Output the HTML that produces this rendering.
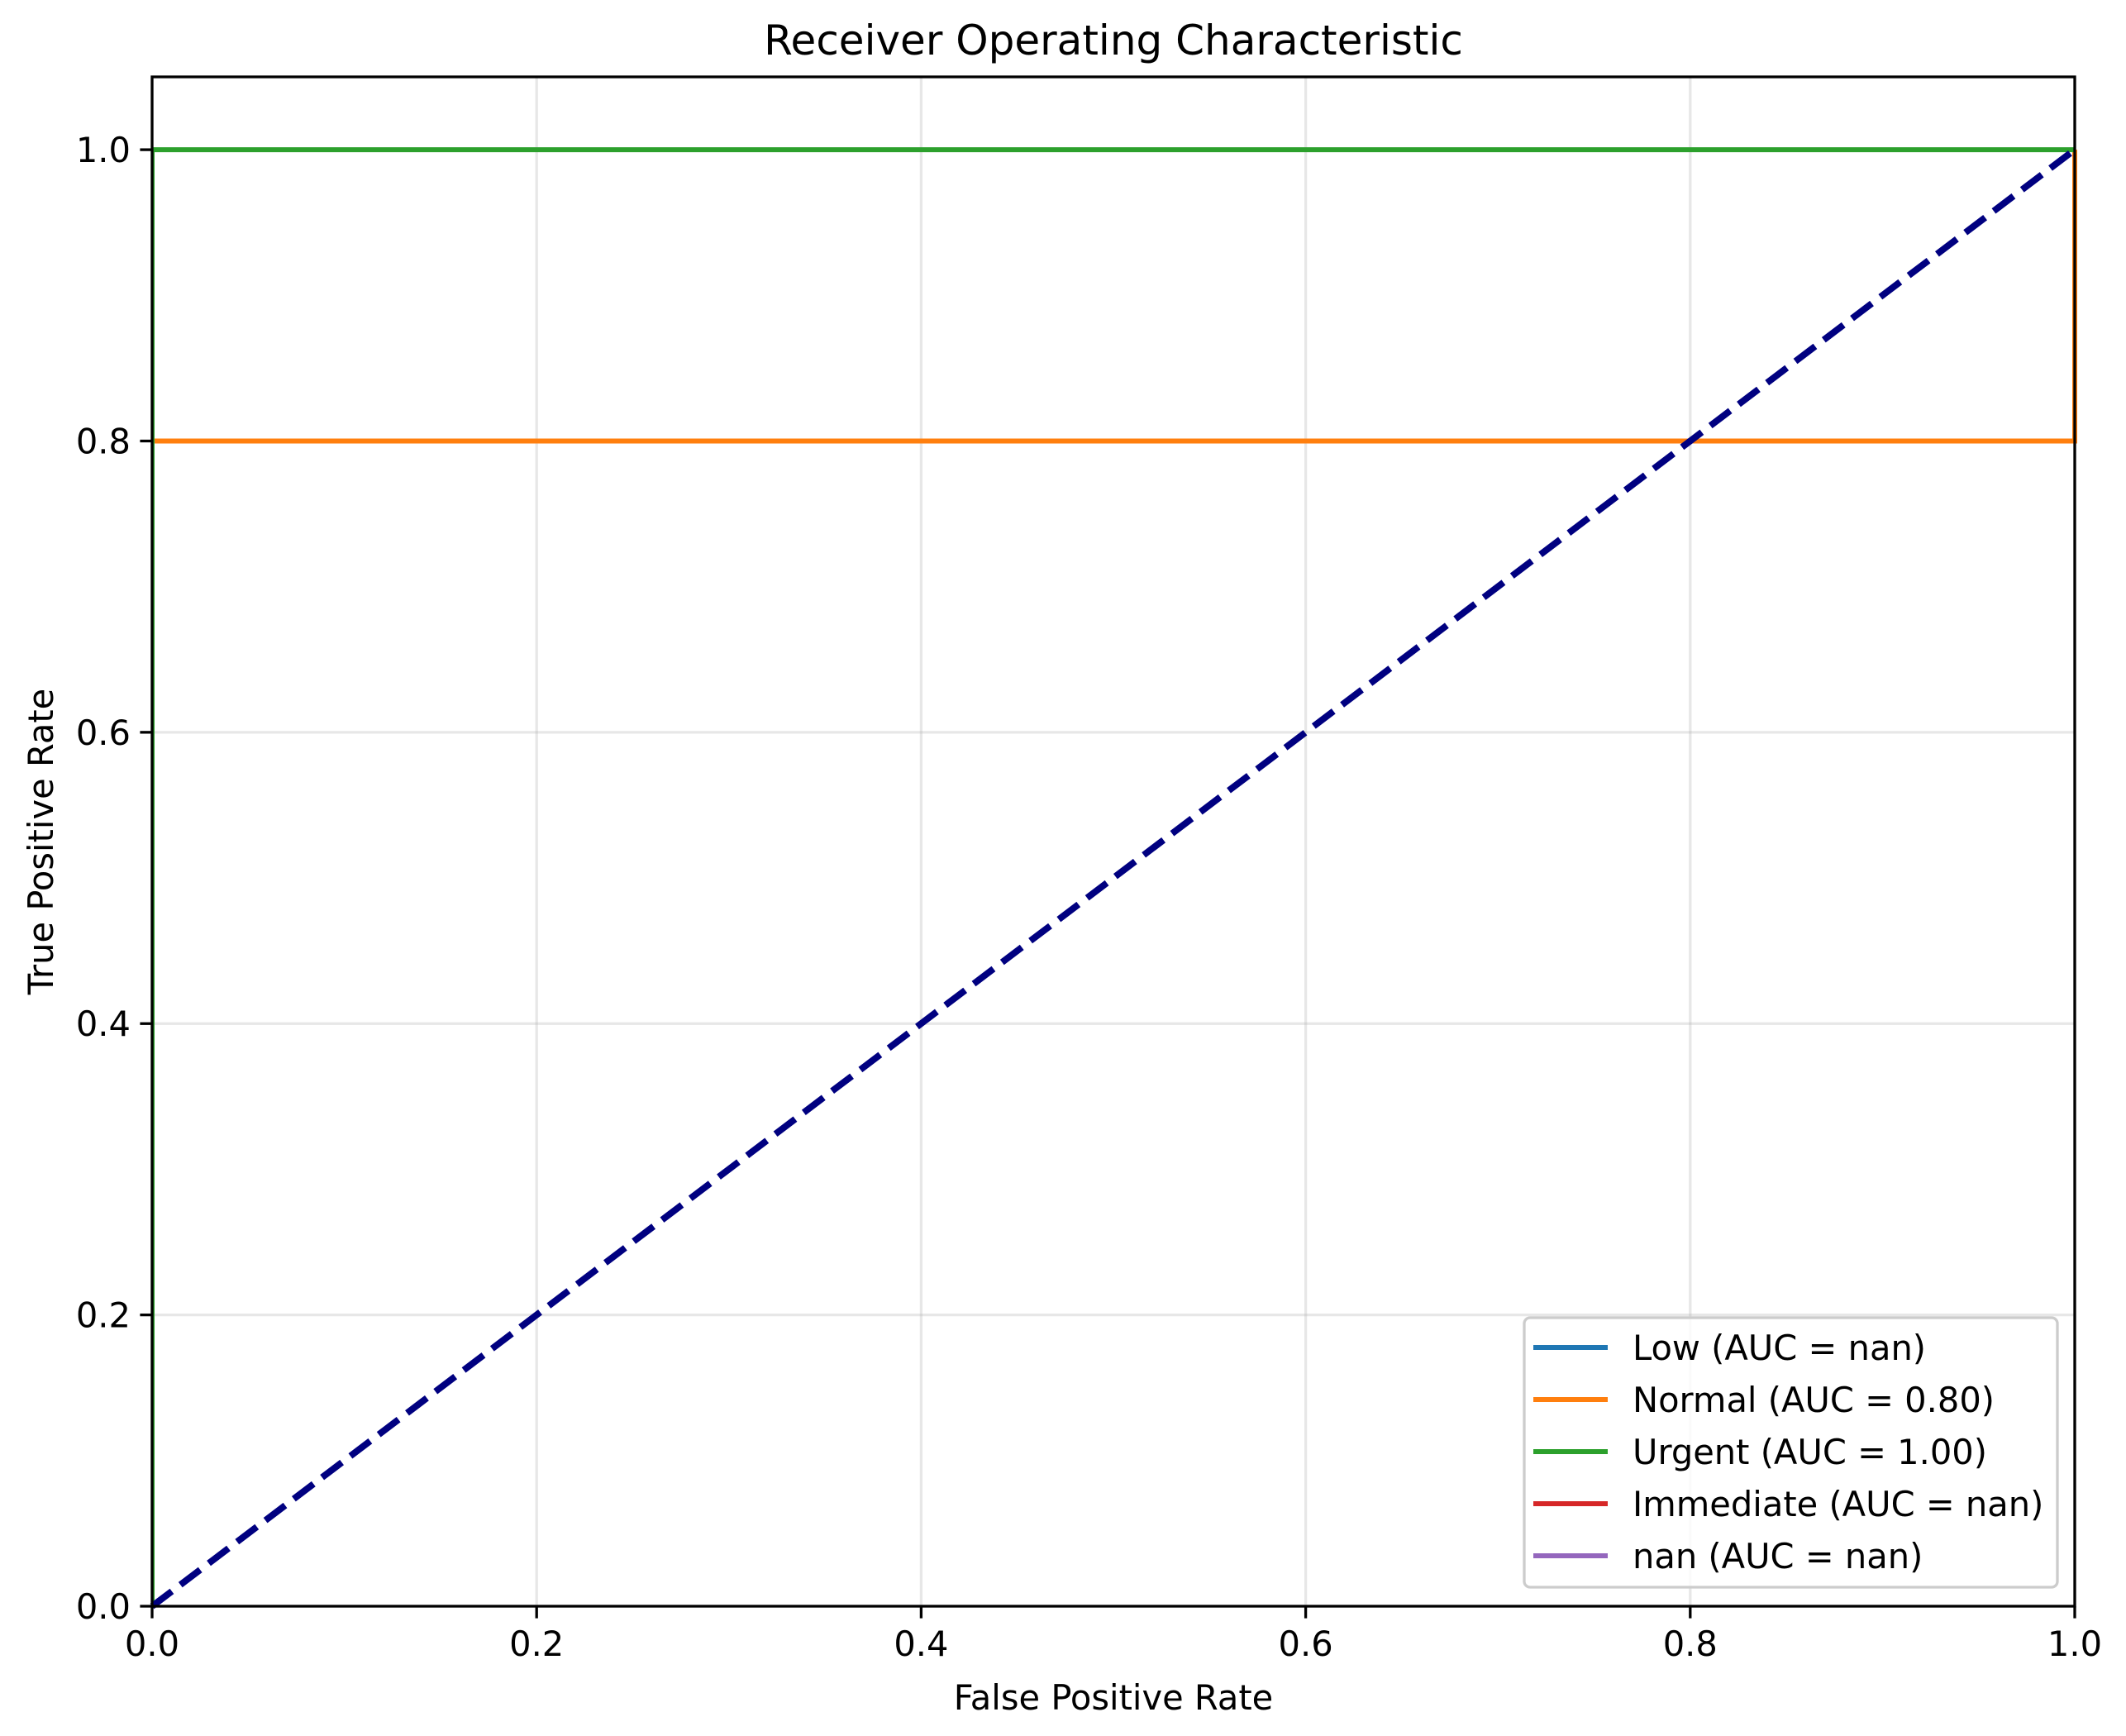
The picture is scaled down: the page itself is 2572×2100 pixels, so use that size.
<!DOCTYPE html>
<html><head><meta charset="utf-8"><style>
html,body{margin:0;padding:0;background:#fff}
svg{display:block;font-family:"DejaVu Sans","Liberation Sans",sans-serif}
</style></head><body>
<svg id="chart" width="2572" height="2100" viewBox="0 0 2572 2100" xmlns="http://www.w3.org/2000/svg">
<rect width="2572" height="2100" fill="#fff"/>
<g id="grid"></g>
<g id="series"></g>
<g id="axes"></g>
<text x="1347" y="66" font-size="50" text-anchor="middle">Receiver Operating Characteristic</text>
<text x="1347" y="2068" font-size="41.6" text-anchor="middle">False Positive Rate</text>
<text transform="translate(64,1018) rotate(-90)" font-size="41.6" text-anchor="middle">True Positive Rate</text>
<g id="legend"></g>
</svg>
<script>
const xTicks=[0,0.2,0.4,0.6,0.8,1.0];
const yTicks=[0,0.2,0.4,0.6,0.8,1.0];
const seriesNames=["Low (AUC = nan)","Normal (AUC = 0.80)","Urgent (AUC = 1.00)","Immediate (AUC = nan)","nan (AUC = nan)"];
const seriesColors=["#1f77b4","#ff7f0e","#2ca02c","#d62728","#9467bd"];
const normalFpr=[0,0,1,1];
const normalTpr=[0,0.8,0.8,1];
const urgentFpr=[0,0,1];
const urgentTpr=[0,1,1];
const diagX=[0,1];
const diagY=[0,1];
const L=184,R=2510,T=93,B=1943;
const X=v=>L+(v-0)/(1-0)*(R-L);
const Y=v=>B-(v-0)/(1.05-0)*(B-T);
const NS="http://www.w3.org/2000/svg";
function mk(tag,attrs,parent){const e=document.createElementNS(NS,tag);for(const k in attrs)e.setAttribute(k,attrs[k]);parent.appendChild(e);return e;}
const grid=document.getElementById('grid'),axes=document.getElementById('axes'),ser=document.getElementById('series'),leg=document.getElementById('legend');
xTicks.forEach(t=>{
 const g=mk('line',{x1:X(t),x2:X(t),y1:T,y2:B,stroke:'#b0b0b0','stroke-opacity':0.3,'stroke-width':3.3},grid);
 
 
 const tk=mk('line',{x1:X(t),x2:X(t),y1:B,y2:B+14.6,stroke:'#000','stroke-width':3.3},axes);
 
 
 const tx=mk('text',{x:X(t),y:B+60,'font-size':41.6,'text-anchor':'middle'},axes);
 tx.textContent=t.toFixed(1);
 
 
});
yTicks.forEach(t=>{
 const g=mk('line',{x1:L,x2:R,y1:Y(t),y2:Y(t),stroke:'#b0b0b0','stroke-opacity':0.3,'stroke-width':3.3},grid);
 
 
 const tk=mk('line',{x1:L-14.6,x2:L,y1:Y(t),y2:Y(t),stroke:'#000','stroke-width':3.3},axes);
 
 
 const tx=mk('text',{x:L-26,y:Y(t)+15,'font-size':41.6,'text-anchor':'end'},axes);
 tx.textContent=t.toFixed(1);
 
 
});
const clip=mk('clipPath',{id:'plotclip'},ser);
mk('rect',{x:L,y:T-10,width:R-L+10,height:B-T+20},clip);
function pts(xs,ys){return xs.map((x,i)=>X(x)+','+Y(ys[i])).join(' ');}
const pn=mk('polyline',{points:pts(normalFpr,normalTpr),fill:'none',stroke:seriesColors[1],'stroke-width':6,'clip-path':'url(#plotclip)'},ser);


const pu=mk('polyline',{points:pts(urgentFpr,urgentTpr),fill:'none',stroke:seriesColors[2],'stroke-width':6,'clip-path':'url(#plotclip)'},ser);


const pd=mk('polyline',{points:pts(diagX,diagY),fill:'none',stroke:'#000080','stroke-width':8,'stroke-dasharray':'30 13'},ser);


const fr=mk('rect',{x:L,y:T,width:R-L,height:B-T,fill:'none',stroke:'#000','stroke-width':3.3},axes);


const lb=mk('rect',{x:1844,y:1594,width:645,height:326,rx:7,fill:'#fff','fill-opacity':0.8,stroke:'#cccccc','stroke-width':3.3},leg);


seriesNames.forEach((n,i)=>{
 const y=1630+i*63;
 const h=mk('line',{x1:1855,x2:1945,y1:y,y2:y,stroke:seriesColors[i],'stroke-width':6},leg);
 
 
 const t=mk('text',{x:1975,y:y+15,'font-size':41.6},leg);
 t.textContent=n;
 
 
});
</script>
</body></html>
